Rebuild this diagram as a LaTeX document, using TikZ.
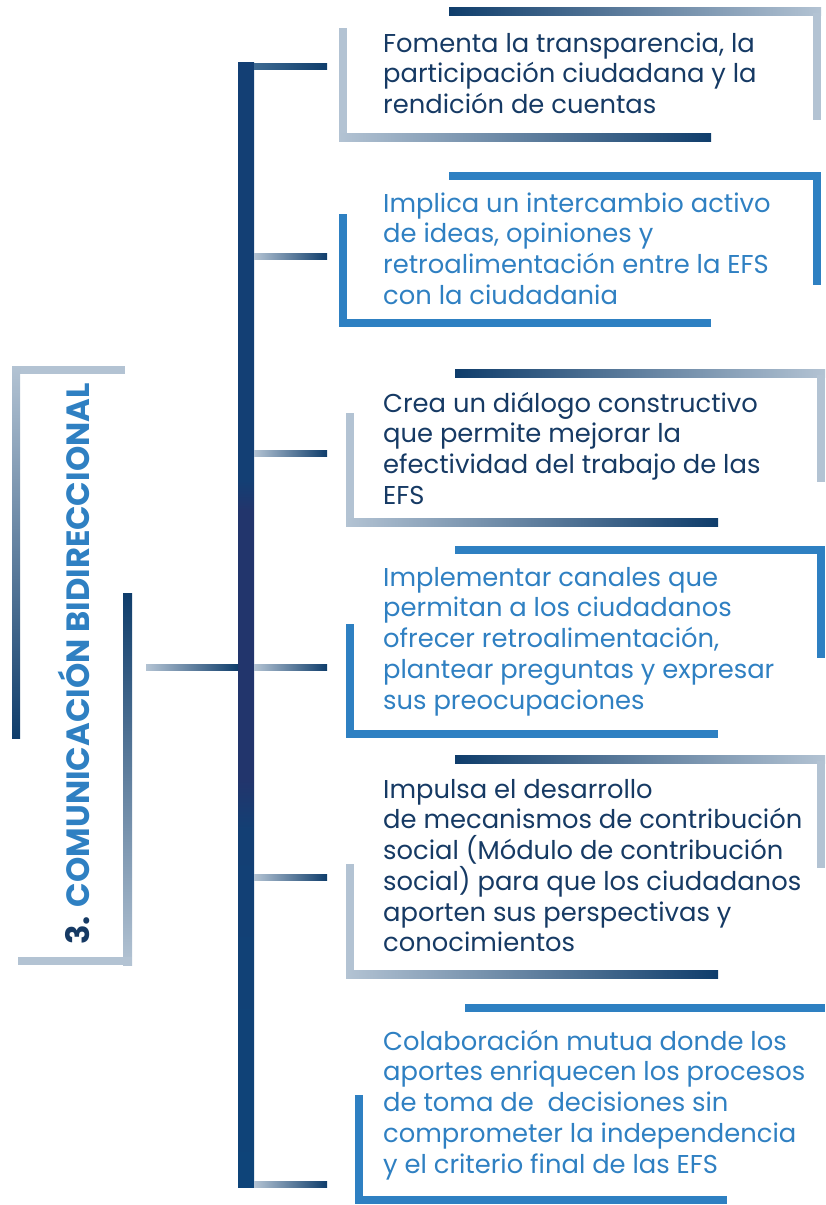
\documentclass[tikz,border=0pt]{standalone}
\usepackage{fontspec}
\setmainfont{Poppins}
\definecolor{navy}{HTML}{0F3D6B}
\definecolor{lite}{HTML}{B3C3D3}
\definecolor{midnavy}{HTML}{3E6A92}
\definecolor{blu}{HTML}{2E80C2}
\definecolor{txtnavy}{HTML}{163A64}
\definecolor{txtblue}{HTML}{2F80C2}
\definecolor{trA}{HTML}{133F74}
\definecolor{trB}{HTML}{22356C}
\definecolor{trC}{HTML}{0E4479}
\pgfdeclareverticalshading{trunkshade}{100bp}{color(0bp)=(trC); color(25bp)=(trC); color(40.9bp)=(trA); color(43.1bp)=(trB); color(55.1bp)=(trB); color(56.4bp)=(trA); color(75bp)=(trA); color(100bp)=(trA)}
\tikzset{
  txt/.style={anchor=north west, inner sep=0pt, align=left, font=\fontsize{25.8}{30.7}\selectfont},
  navytxt/.style={txt, text=txtnavy},
  bluetxt/.style={txt, text=txtblue},
  darkright/.style={left color=lite, right color=navy},
  darkleft/.style={left color=navy, right color=lite},
  litefill/.style={fill=lite},
  blufill/.style={fill=blu},
}
\newcommand{\fl}{\rule{0pt}{24pt}}
\begin{document}
\begin{tikzpicture}[x=1pt,y=-1pt]
\useasboundingbox (0,0) rectangle (825,1205);

% ---------- trunk ----------
\path[shading=trunkshade] (238,62) rectangle (254,1187);
% branches
\path[left color=midnavy, right color=navy] (254,63) rectangle (327,69);
\foreach \ya/\yb in {253/259, 450/456, 664/670, 874/880, 1181/1187}{
  \path[darkright] (254,\ya) rectangle (327,\yb);
}
\path[darkright] (146,664) rectangle (238,670);

% ---------- left title brackets ----------
\path[litefill] (12,366) rectangle (125,374);
\path[top color=lite, bottom color=navy] (12,366) rectangle (20,738);
\path[top color=navy, bottom color=lite] (123,593) rectangle (132,965);
\path[litefill] (18,957) rectangle (132,965);

\node[rotate=90, anchor=base, inner sep=0pt, font=\bfseries\fontsize{32.2}{34}\selectfont] (title) at (89,664)
  {\textcolor{txtnavy}{3.} \textcolor{txtblue}{COMUNICACIÓN BIDIRECCIONAL}};

% ---------- box 1 ----------
\path[darkleft] (449,7) rectangle (821,15);
\path[litefill] (813,13) rectangle (821,120);
\path[litefill] (339,28) rectangle (347,141);
\path[darkright] (339,133) rectangle (711,141);
\node[navytxt] (t1) at (383,28) {\fl Fomenta la transparencia, la\\participación ciudadana y la\\rendición de cuentas};

% ---------- box 2 ----------
\path[blufill] (449,172) rectangle (821,180);
\path[blufill] (813,172) rectangle (821,285);
\path[blufill] (339,214) rectangle (347,327);
\path[blufill] (339,319) rectangle (711,327);
\node[bluetxt] (t2) at (383,188) {\fl Implica un intercambio activo\\de ideas, opiniones y\\retroalimentación entre la EFS\\con la ciudadania};

% ---------- box 3 ----------
\path[darkleft] (455,369) rectangle (825,377);
\path[litefill] (817,375) rectangle (825,482);
\path[litefill] (346,413) rectangle (354,526);
\path[darkright] (346,518) rectangle (718,526);
\node[navytxt] (t3) at (383,388) {\fl Crea un diálogo constructivo\\que permite mejorar la\\efectividad del trabajo de las\\EFS};

% ---------- box 4 ----------
\path[blufill] (455,546) rectangle (825,554);
\path[blufill] (817,546) rectangle (825,658);
\path[blufill] (346,624) rectangle (354,738);
\path[blufill] (346,730) rectangle (718,738);
\node[bluetxt] (t4) at (383,562) {\fl Implementar canales que\\permitan a los ciudadanos\\ofrecer retroalimentación,\\plantear preguntas y expresar\\sus preocupaciones};

% ---------- box 5 ----------
\path[darkleft] (455,755) rectangle (825,763);
\path[litefill] (817,761) rectangle (825,868);
\path[litefill] (346,864) rectangle (354,978);
\path[darkright] (346,970) rectangle (718,978);
\node[navytxt] (t5) at (383,774) {\fl Impulsa el desarrollo\\de mecanismos de contribución\\social (Módulo de contribución\\social) para que los ciudadanos\\aporten sus perspectivas y\\conocimientos};

% ---------- box 6 ----------
\path[blufill] (465,1004) rectangle (825,1012);
\path[blufill] (355,1095) rectangle (363,1204);
\path[blufill] (355,1196) rectangle (727,1204);
\node[bluetxt] (t6) at (383,1026) {\fl Colaboración mutua donde los\\aportes enriquecen los procesos\\de toma de \ decisiones sin\\comprometer la independencia\\y el criterio final de las EFS};
\end{tikzpicture}
\end{document}
